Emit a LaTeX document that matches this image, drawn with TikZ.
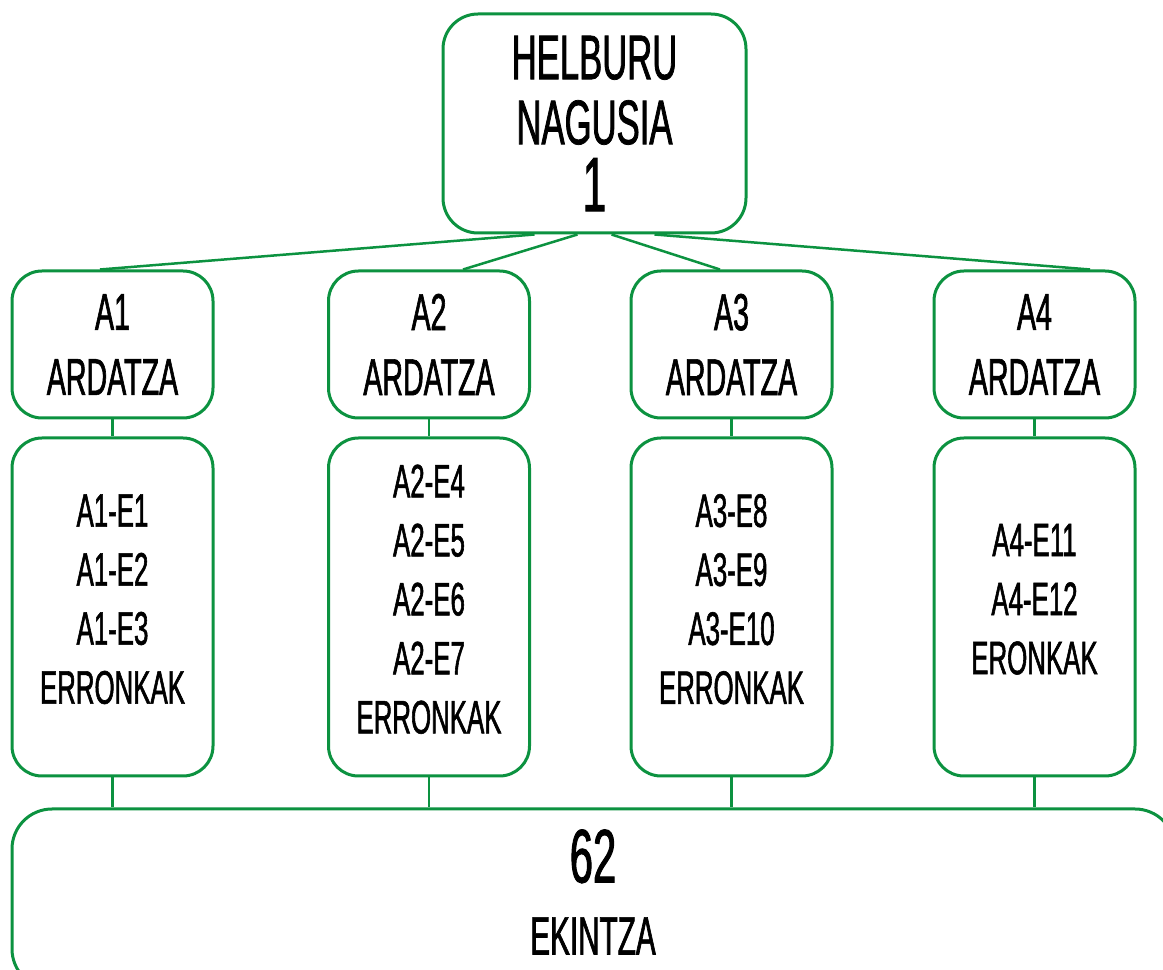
\documentclass[tikz,border=0pt]{standalone}
\usepackage{fontspec}
\setmainfont[FakeStretch=0.55, FakeBold=1.2]{Liberation Sans}
\usepackage{tikz}
\definecolor{planGreen}{RGB}{12,146,64}

\begin{document}
\begin{tikzpicture}[x=1pt, y=1pt,
    box/.style={draw=planGreen, line width=3pt, fill=white, align=center, inner sep=0pt},
    mainbox/.style={box, minimum width=303pt, minimum height=219pt, rounded corners=35pt,
        font=\fontsize{63}{65}\selectfont},
    axisbox/.style={box, minimum width=201pt, minimum height=147pt, rounded corners=30pt,
        font=\fontsize{52}{65}\selectfont},
    listbox/.style={box, minimum width=201pt, minimum height=338pt, rounded corners=30pt,
        font=\fontsize{47}{59}\selectfont, text depth=16pt},
    link/.style={draw=planGreen, line width=2.5pt}]
            \clip (0,0) rectangle (1163,970);
            % helburu nagusia
            \node (top) at (594.5,846.5) [mainbox] {HELBURU\\NAGUSIA\\[2pt]{\fontsize{77}{65}\selectfont 1}};
            % ardatzak
            \node (a1) at (112.5,625.5) [axisbox] {A1\\ARDATZA};
            \node (a2) at (429,625.5) [axisbox] {A2\\ARDATZA};
            \node (a3) at (731.5,625.5) [axisbox] {A3\\ARDATZA};
            \node (a4) at (1034.5,625.5) [axisbox] {A4\\ARDATZA};
            % erronkak
            \node (e1) at (112.5,363) [listbox] {A1-E1\\A1-E2\\A1-E3\\ERRONKAK};
            \node (e2) at (429,363) [listbox] {A2-E4\\A2-E5\\A2-E6\\A2-E7\\ERRONKAK};
            \node (e3) at (731.5,363) [listbox] {A3-E8\\A3-E9\\A3-E10\\ERRONKAK};
            \node (e4) at (1034.5,363) [listbox] {A4-E11\\A4-E12\\ERONKAK};
            % ekintzak
            \node (ek) at (593.5,71) [box, minimum width=1163pt, minimum height=180pt, rounded corners=40pt] {};
            \node (ektext) at (593,78) [align=center, font=\fontsize{54}{72}\selectfont] {{\fontsize{76}{72}\selectfont 62}\\EKINTZA};
            % loturak
            \draw[link] ([xshift=-60pt]top.south) -- ([xshift=-12.5pt]a1.north);
            \draw[link] ([xshift=-17pt]top.south) -- ([xshift=34pt]a2.north);
            \draw[link] ([xshift=17pt]top.south) -- ([xshift=-11.5pt]a3.north);
            \draw[link] ([xshift=60pt]top.south) -- ([xshift=55.5pt]a4.north);
            \draw[link] (a1) -- (e1);
            \draw[link] (a2) -- (e2);
            \draw[link] (a3) -- (e3);
            \draw[link] (a4) -- (e4);
            \draw[link] (e1.south) -- (e1.south |- ek.north);
            \draw[link] (e2.south) -- (e2.south |- ek.north);
            \draw[link] (e3.south) -- (e3.south |- ek.north);
            \draw[link] (e4.south) -- (e4.south |- ek.north);
        \end{tikzpicture}
\end{document}
